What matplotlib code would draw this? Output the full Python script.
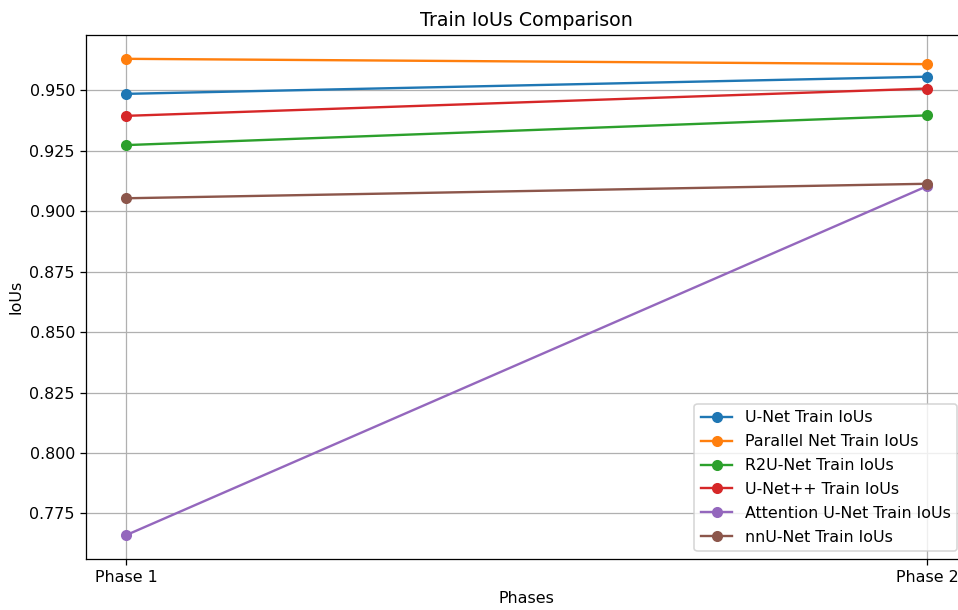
import matplotlib
matplotlib.use("Agg")
import matplotlib.pyplot as plt

phases = ["Phase 1", "Phase 2"]
unet = [0.9486, 0.9557]
parallel = [0.9631, 0.9609]
r2u = [0.9274, 0.9397]
unetpp = [0.9395, 0.9508]
attention = [0.7660, 0.9104]
nnunet = [0.9054, 0.9114]

series = [
    ("U-Net Train IoUs", unet),
    ("Parallel Net Train IoUs", parallel),
    ("R2U-Net Train IoUs", r2u),
    ("U-Net++ Train IoUs", unetpp),
    ("Attention U-Net Train IoUs", attention),
    ("nnU-Net Train IoUs", nnunet),
]

DPI = 114
fig = plt.figure(figsize=(959 / DPI, 610 / DPI), dpi=DPI)
W, H = 959, 610
left, right, top, bottom = 86, 967, 35, 559
ax = fig.add_axes([left / W, 1 - bottom / H, (right - left) / W, (bottom - top) / H])
for label, vals in series:
    ax.plot(phases, vals, marker="o", label=label)
ax.set_title("Train IoUs Comparison")
ax.set_xlabel("Phases")
ax.set_ylabel("IoUs")
ax.grid(True)
ax.spines["right"].set_visible(False)
ax.legend(loc="lower right", bbox_to_anchor=(0.998, 0.0), bbox_transform=ax.transAxes,
          labelspacing=0.56)
fig.savefig("out.png", dpi=DPI)
